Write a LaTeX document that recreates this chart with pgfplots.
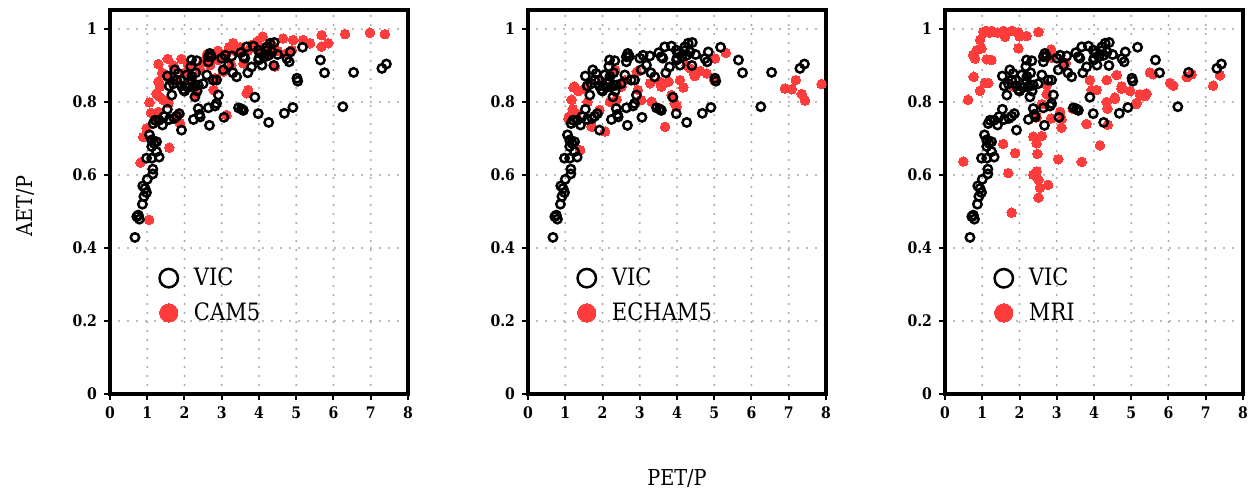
\documentclass[border=0pt]{standalone}
\usepackage{pgfplots}
\pgfplotsset{compat=1.18}
\usepackage{pgfplotstable}
\usepackage{fontspec}
\setmainfont{DejaVu Serif}[FakeStretch=0.88]
\definecolor{mred}{RGB}{255,60,60}
\definecolor{mgrid}{RGB}{165,165,165}

\pgfplotstableread{
x y
0.67 0.429
0.72 0.486
0.79 0.479
0.76 0.490
0.87 0.520
0.91 0.541
0.98 0.552
0.88 0.570
0.94 0.563
1.00 0.588
1.15 0.603
1.15 0.616
0.98 0.646
1.12 0.646
1.32 0.649
1.25 0.664
1.12 0.678
1.18 0.687
1.12 0.696
1.06 0.710
1.25 0.691
1.16 0.741
1.21 0.750
1.32 0.750
1.41 0.737
1.54 0.780
1.59 0.752
1.72 0.755
1.79 0.761
1.86 0.768
1.92 0.723
1.66 0.819
1.59 0.844
1.54 0.871
1.74 0.888
1.83 0.878
1.79 0.860
1.92 0.844
1.97 0.834
2.06 0.874
2.19 0.915
2.33 0.913
2.17 0.897
2.19 0.856
2.24 0.842
2.28 0.814
2.34 0.830
2.37 0.846
2.37 0.782
2.24 0.752
2.42 0.759
2.40 0.766
2.64 0.784
2.67 0.736
2.68 0.933
2.64 0.924
2.64 0.910
2.60 0.874
2.77 0.860
2.86 0.860
2.86 0.796
2.91 0.819
2.82 0.789
3.06 0.758
3.09 0.928
3.04 0.888
3.18 0.901
3.27 0.926
3.40 0.869
3.45 0.784
3.53 0.781
3.58 0.777
3.51 0.935
3.58 0.924
3.67 0.951
3.80 0.896
3.85 0.953
3.89 0.813
3.98 0.942
3.98 0.768
4.30 0.961
4.41 0.963
4.21 0.951
4.03 0.933
4.13 0.924
4.26 0.928
4.35 0.937
4.08 0.901
3.99 0.915
4.84 0.937
4.75 0.919
4.81 0.910
5.17 0.950
5.02 0.865
5.04 0.857
5.65 0.915
5.76 0.880
6.54 0.881
6.25 0.787
7.42 0.904
7.30 0.892
4.91 0.785
4.68 0.769
4.26 0.744
2.10 0.840
2.20 0.870
2.50 0.850
2.00 0.830
2.30 0.880
2.72 0.925
3.00 0.920
3.30 0.880
3.62 0.920
3.70 0.880
4.00 0.920
4.20 0.940
4.50 0.930
4.40 0.900
1.45 0.760
1.70 0.850
1.90 0.860
}\vicdata

\pgfplotstableread{
x y
0.82 0.634
0.89 0.704
0.98 0.728
1.06 0.799
1.05 0.477
1.59 0.675
1.30 0.904
1.55 0.918
1.92 0.918
1.30 0.856
1.34 0.842
1.25 0.823
1.32 0.815
1.43 0.806
1.30 0.773
1.52 0.874
1.57 0.797
1.79 0.860
1.88 0.742
1.82 0.764
2.10 0.901
2.42 0.888
2.69 0.901
2.82 0.865
2.78 0.833
3.13 0.764
2.91 0.915
3.13 0.933
3.31 0.961
3.40 0.938
3.04 0.883
3.26 0.901
3.67 0.824
3.71 0.833
3.58 0.906
3.80 0.956
3.94 0.965
4.10 0.979
4.11 0.947
4.20 0.924
4.43 0.897
4.39 0.952
4.65 0.974
4.92 0.970
5.19 0.970
5.37 0.961
4.74 0.933
4.88 0.942
5.68 0.983
5.68 0.952
5.86 0.961
6.31 0.986
6.98 0.990
7.38 0.986
1.40 0.880
1.60 0.860
1.70 0.900
2.00 0.880
2.20 0.860
2.50 0.910
2.60 0.930
2.90 0.940
3.20 0.950
3.50 0.950
3.70 0.940
4.00 0.950
4.30 0.960
4.50 0.940
2.30 0.820
1.20 0.750
1.10 0.770
}\camdata

\pgfplotstableread{
x y
1.22 0.840
1.17 0.806
1.08 0.755
1.40 0.668
1.71 0.732
2.07 0.719
2.38 0.807
2.34 0.887
2.92 0.883
3.28 0.851
3.32 0.801
3.68 0.732
3.54 0.856
3.77 0.856
3.99 0.788
4.08 0.860
4.17 0.840
4.26 0.901
4.44 0.883
4.62 0.885
4.80 0.878
4.48 0.871
5.02 0.919
5.31 0.935
6.90 0.837
7.08 0.835
7.19 0.860
7.35 0.822
7.44 0.804
7.88 0.849
4.35 0.892
1.25 0.842
1.30 0.768
1.52 0.837
1.92 0.778
2.51 0.842
3.04 0.805
2.95 0.833
3.58 0.842
3.85 0.819
3.94 0.796
5.00 0.860
1.35 0.830
1.60 0.800
2.00 0.850
2.20 0.800
2.60 0.860
1.10 0.760
1.20 0.780
}\echamdata

\pgfplotstableread{
x y
0.49 0.637
0.62 0.806
0.77 0.869
0.81 0.919
0.76 0.929
0.85 0.942
0.98 0.947
0.94 0.970
1.03 0.992
1.16 0.992
1.30 0.992
1.57 0.995
1.79 0.995
1.97 0.991
2.19 0.981
2.51 0.992
1.61 0.979
1.97 0.947
1.12 0.917
1.25 0.915
0.94 0.831
1.07 0.852
1.16 0.852
1.83 0.843
1.56 0.685
1.88 0.660
1.70 0.605
1.79 0.497
2.37 0.705
2.60 0.707
2.46 0.687
2.48 0.658
2.46 0.610
2.51 0.587
2.55 0.565
2.51 0.538
2.77 0.573
2.37 0.601
2.46 0.758
2.60 0.794
2.73 0.821
2.73 0.846
2.86 0.922
2.85 0.944
3.04 0.643
3.13 0.753
3.13 0.730
3.24 0.907
3.67 0.636
3.80 0.740
3.89 0.860
3.94 0.833
4.07 0.833
4.16 0.681
4.34 0.800
4.34 0.860
4.37 0.738
4.56 0.809
4.61 0.874
4.74 0.843
4.97 0.830
5.15 0.798
5.23 0.821
5.41 0.823
5.50 0.881
5.59 0.876
6.04 0.852
6.13 0.845
6.49 0.868
6.62 0.876
7.20 0.845
7.38 0.873
2.85 0.755
3.09 0.773
3.43 0.782
4.36 0.782
4.56 0.812
4.74 0.837
5.12 0.794
5.37 0.816
1.05 0.990
1.10 0.995
1.20 0.990
1.25 0.995
1.40 0.990
2.00 0.980
}\mridata

\pgfplotsset{
  panel/.style={
    scale only axis, width=149bp, height=192bp,
    xmin=0, xmax=8, ymin=0, ymax=1.052,
    xtick={0,1,...,8}, ytick={0,0.2,0.4,0.6,0.8,1},
    yticklabels={0,0.2,0.4,0.6,0.8,1},
    xtick pos=left, ytick pos=left,
    tick align=outside,
    major tick length=3bp,
    every tick/.style={black, line width=1bp},
    axis line style={line width=1.6bp},
    grid=major,
    major grid style={mgrid, line width=1.2bp, dash pattern=on 0bp off 4.5bp, line cap=round},
    tick label style={font=\bfseries\fontsize{8}{9}\selectfont},
    /pgf/number format/assume math mode=true,
    legend style={draw=none, fill=none, font=\fontsize{12}{13}\selectfont,
      at={(axis description cs:0.145,0.2565)}, anchor=west, row sep=3bp, column sep=6bp},
    legend cell align=left,
    reverse legend,
    legend image code/.code={\draw[##1, mark size=4.6bp] plot coordinates {(6bp,0bp)};},
  },
  redpts/.style={only marks, mark=*, mark size=2.4bp, color=mred, mark options={draw=mred, fill=mred, line width=0pt}},
  vicpts/.style={only marks, mark=o, mark size=2.1bp, color=black, mark options={line width=1.25bp}},
}

\begin{document}
\begin{tikzpicture}
\path[use as bounding box] (0,0) rectangle (628.5bp,245bp);

\begin{axis}[panel, at={(55bp,48bp)}, anchor=south west,
  ylabel={AET/P},
  y label style={at={(axis description cs:-0.285,0.49)}, anchor=center, font=\fontsize{11}{12}\selectfont}]
\addplot[redpts] table {\camdata};
\addlegendentry{CAM5}
\addplot[vicpts] table {\vicdata};
\addlegendentry{VIC}
\end{axis}

\begin{axis}[panel, at={(264bp,48bp)}, anchor=south west,
  xlabel={PET/P},
  x label style={at={(axis description cs:0.5,-0.219)}, anchor=center, font=\fontsize{11}{12}\selectfont}]
\addplot[redpts] table {\echamdata};
\addlegendentry{ECHAM5}
\addplot[vicpts] table {\vicdata};
\addlegendentry{VIC}
\end{axis}

\begin{axis}[panel, at={(472.5bp,48bp)}, anchor=south west]
\addplot[redpts] table {\mridata};
\addlegendentry{MRI}
\addplot[vicpts] table {\vicdata};
\addlegendentry{VIC}
\end{axis}
\end{tikzpicture}
\end{document}
